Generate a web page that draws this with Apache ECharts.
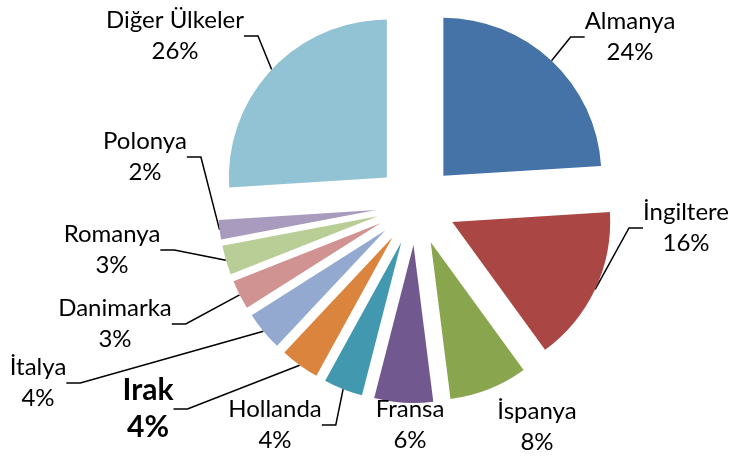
<!DOCTYPE html>
<html>
<head>
<meta charset="utf-8">
<script src="https://cdn.jsdelivr.net/npm/echarts@6/dist/echarts.min.js"></script>
<style>
  html, body { margin: 0; padding: 0; background: #fff; }
  #main { width: 733px; height: 457px; }
</style>
</head>
<body>
<div id="main"></div>
<script>
// ülkeler ve yüzdeleri (saat yönünde, tepeden başlayarak)
var countries = ["Almanya", "İngiltere", "İspanya", "Fransa", "Hollanda", "Irak",
  "İtalya", "Danimarka", "Romanya", "Polonya", "Diğer Ülkeler"];
var shares = [24, 16, 8, 6, 4, 4, 4, 3, 3, 2, 26];

// görünüm ayarları
var sliceColors = ["#4572A7", "#AA4643", "#89A54E", "#71588F", "#4198AF", "#DB843D",
  "#93A9CF", "#D19392", "#B9CD96", "#A99BBD", "#92C3D5"];
// etiket bloklarının merkezleri (Excel'deki yerleşim)
var labelSpots = [[630, 37], [686, 228], [537, 427], [410, 425], [275, 425], [148, 409],
  [38, 383], [115, 324], [112, 250], [145, 157], [175, 36]];
var boldLabel = "Irak";
var noLine = ["İspanya", "Fransa"];
var pieCenter = [416, 205];
var pieRadius = 158;
var explode = 40;

var myChart = echarts.init(document.getElementById("main"));

var total = shares.reduce(function (a, b) { return a + b; }, 0);

// her dilim ayrı bir seride çiziliyor, merkezi dilimin ortası yönünde kaydırılıyor
// (Excel'deki "patlatılmış pasta" görünümü)
var series = [];
var cum = 0;
countries.forEach(function (name, k) {
  var mid = (cum + shares[k] / 2) / total * Math.PI * 2;
  cum += shares[k];
  var cx = pieCenter[0] + explode * Math.sin(mid);
  var cy = pieCenter[1] - explode * Math.cos(mid);

  var data = countries.map(function (n, i) {
    if (i !== k) {
      return {
        name: n,
        value: shares[i],
        itemStyle: { color: "rgba(0,0,0,0)" },
        label: { show: false },
        labelLine: { show: false }
      };
    }
    var item = { name: n, value: shares[i], itemStyle: { color: sliceColors[i] } };
    if (n === boldLabel) {
      item.label = { fontWeight: "bold", fontSize: 30, lineHeight: 37 };
    }
    if (noLine.indexOf(n) >= 0) {
      item.labelLine = { show: false };
    }
    return item;
  });

  series.push({
    type: "pie",
    name: name,
    center: [cx, cy],
    radius: pieRadius,
    startAngle: 90,
    clockwise: true,
    avoidLabelOverlap: false,
    silent: true,
    label: {
      show: true,
      position: "outside",
      formatter: "{b}\n{c}%",
      color: "#000",
      fontFamily: "Lato",
      fontSize: 24,
      lineHeight: 31,
      align: "center"
    },
    labelLine: {
      show: true,
      length: 12,
      length2: 14,
      lineStyle: { color: "#000", width: 1.5 }
    },
    labelLayout: function (params) {
      var p = labelSpots[params.dataIndex];
      return { x: p[0], y: p[1], align: "center", verticalAlign: "middle" };
    },
    emphasis: { disabled: true },
    data: data
  });
});

var option = {
  animation: false,
  backgroundColor: "#fff",
  series: series
};

option && myChart.setOption(option);
</script>
</body>
</html>
